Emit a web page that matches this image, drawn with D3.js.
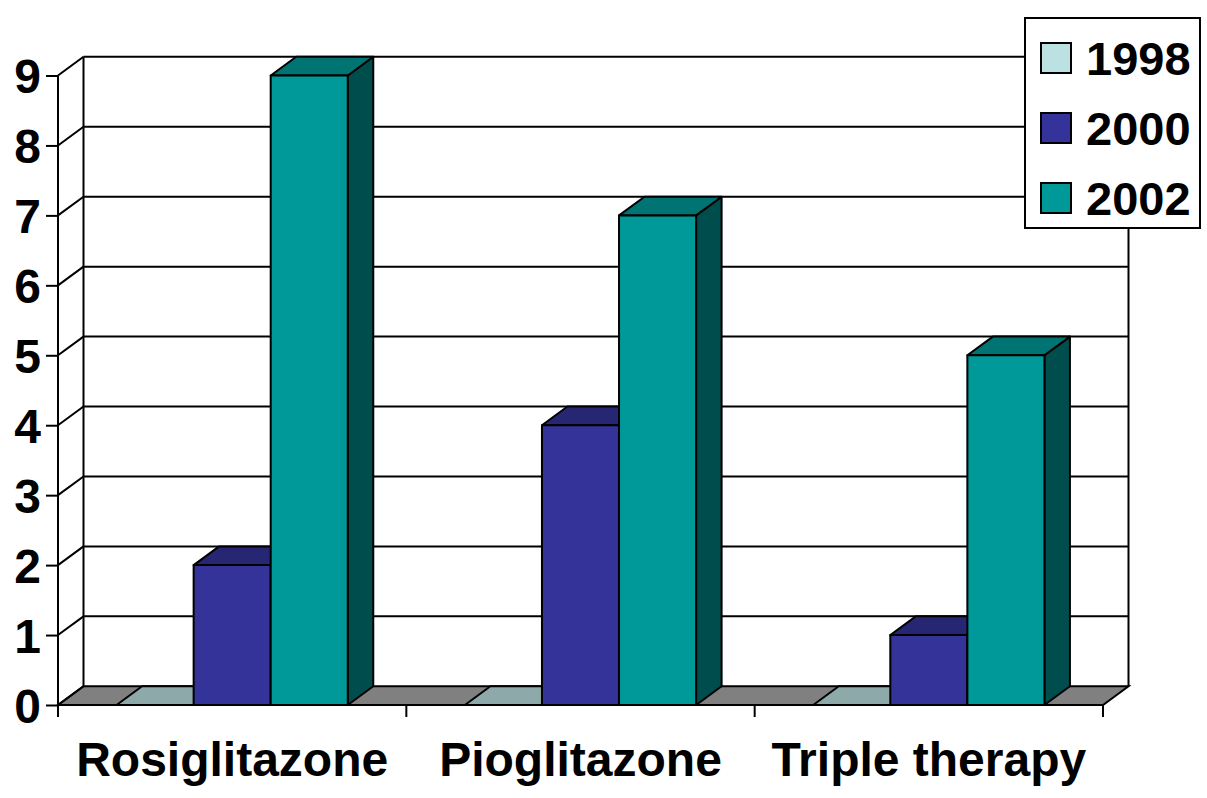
<!DOCTYPE html>
<html>
<head>
<meta charset="utf-8">
<script src="https://cdn.jsdelivr.net/npm/d3@7"></script>
<style>
  body { margin: 0; background: #fff; }
  svg { display: block; font-family: "Liberation Sans", Arial, sans-serif; font-weight: bold; }
</style>
</head>
<body>
<div id="chart"></div>
<script>
// data
const categories = ["Rosiglitazone", "Pioglitazone", "Triple therapy"];
const seriesNames = ["1998", "2000", "2002"];
const values1998 = [0, 0, 0];
const values2000 = [2, 4, 1];
const values2002 = [9, 7, 5];
const yTicks = [0, 1, 2, 3, 4, 5, 6, 7, 8, 9];

const seriesValues = [values1998, values2000, values2002];
const colors = ["#BCE1E3", "#333399", "#009999"];

const width = 1207, height = 798;
// 3D depth offset
const dx = 25.5, dy = -18.7;

const svg = d3.select("#chart").append("svg")
    .attr("width", width)
    .attr("height", height);

// scales
let y = d3.scaleLinear().domain([0, 9]).range([705, 75.5]);
let x = d3.scaleBand().domain(categories).range([58, 1103]);
let xs = d3.scaleBand().domain(seriesNames).range([0, x.bandwidth()]).paddingOuter(0.76);

function shade(c, k) {
    let col = d3.rgb(c);
    return d3.rgb(col.r * k, col.g * k, col.b * k).toString();
}

// floor
const x0 = x.range()[0], x1 = x.range()[1];
svg.append("path")
    .attr("d", `M${x0},${y(0)}L${x1},${y(0)}L${x1 + dx},${y(0) + dy}L${x0 + dx},${y(0) + dy}Z`)
    .attr("fill", "#808080")
    .attr("stroke", "#000")
    .attr("stroke-width", 2);

// back wall gridlines + side wall diagonals
const grid = svg.append("g").attr("stroke", "#000").attr("stroke-width", 2).attr("fill", "none");
yTicks.forEach(function(t) {
    if (t > 0) {
        grid.append("line")
            .attr("x1", x0 + dx).attr("x2", x1 + dx)
            .attr("y1", y(t) + dy).attr("y2", y(t) + dy);
    }
    grid.append("line")
        .attr("x1", x0).attr("x2", x0 + dx)
        .attr("y1", y(t)).attr("y2", y(t) + dy);
});
// wall verticals
grid.append("line").attr("x1", x0 + dx).attr("x2", x0 + dx).attr("y1", y(9) + dy).attr("y2", y(0) + dy);
grid.append("line").attr("x1", x1 + dx).attr("x2", x1 + dx).attr("y1", y(9) + dy).attr("y2", y(0) + dy);

// front y axis
svg.append("g")
    .attr("transform", "translate(" + x0 + ",0)")
    .call(d3.axisLeft(y).tickValues(yTicks).tickSize(12).tickFormat(d3.format("d")))
    .call(g => g.select(".domain").attr("stroke-width", 2).attr("d", `M-0,${y(9)}V${y(0)}`))
    .call(g => g.selectAll(".tick line").attr("stroke-width", 2))
    .call(g => g.selectAll(".tick text")
        .attr("x", -17)
        .attr("dy", "0.36em")
        .style("font-size", "48px")
        .style("font-family", "Liberation Sans, Arial, sans-serif")
        .style("font-weight", "bold")
        .attr("fill", "#000"));

// bottom axis ticks (category boundaries)
const bTicks = categories.map(c => x(c)).concat([x1]);
svg.append("g").selectAll("line")
    .data(bTicks)
    .enter()
    .append("line")
    .attr("x1", d => d).attr("x2", d => d)
    .attr("y1", y(0)).attr("y2", y(0) + 12)
    .attr("stroke", "#000")
    .attr("stroke-width", 2);

// bars
const bars = svg.append("g").attr("stroke", "#000").attr("stroke-width", 2).attr("stroke-linejoin", "round");
categories.forEach(function(cat, ci) {
    seriesNames.forEach(function(s, si) {
        let v = seriesValues[si][ci];
        let bx = x(cat) + xs(s);
        let bw = xs.bandwidth();
        let yt = y(v), yb = y(0);
        let col = colors[si];
        if (v > 0) {
            // side
            bars.append("path")
                .attr("d", `M${bx + bw},${yt}L${bx + bw + dx},${yt + dy}L${bx + bw + dx},${yb + dy}L${bx + bw},${yb}Z`)
                .attr("fill", shade(col, 0.5));
        }
        // top
        bars.append("path")
            .attr("d", `M${bx},${yt}L${bx + dx},${yt + dy}L${bx + bw + dx},${yt + dy}L${bx + bw},${yt}Z`)
            .attr("fill", shade(col, 0.75));
        if (v > 0) {
            // front
            bars.append("rect")
                .attr("x", bx).attr("y", yt)
                .attr("width", bw).attr("height", yb - yt)
                .attr("fill", col);
        }
    });
});

// category labels
svg.append("g").selectAll("text")
    .data(categories)
    .enter()
    .append("text")
    .attr("x", d => x(d) + x.bandwidth() / 2)
    .attr("y", 776)
    .attr("text-anchor", "middle")
    .style("font-size", "48px")
    .text(d => d);

// legend
const legend = svg.append("g");
legend.append("rect")
    .attr("x", 1025).attr("y", 18)
    .attr("width", 175).attr("height", 210)
    .attr("fill", "#fff").attr("stroke", "#000").attr("stroke-width", 2);
seriesNames.forEach(function(s, i) {
    legend.append("rect")
        .attr("x", 1041).attr("y", 43 + i * 70)
        .attr("width", 30).attr("height", 30)
        .attr("fill", colors[i]).attr("stroke", "#000").attr("stroke-width", 2);
    legend.append("text")
        .attr("x", 1086).attr("y", 75 + i * 70)
        .style("font-size", "47px")
        .text(s);
});
</script>
</body>
</html>
